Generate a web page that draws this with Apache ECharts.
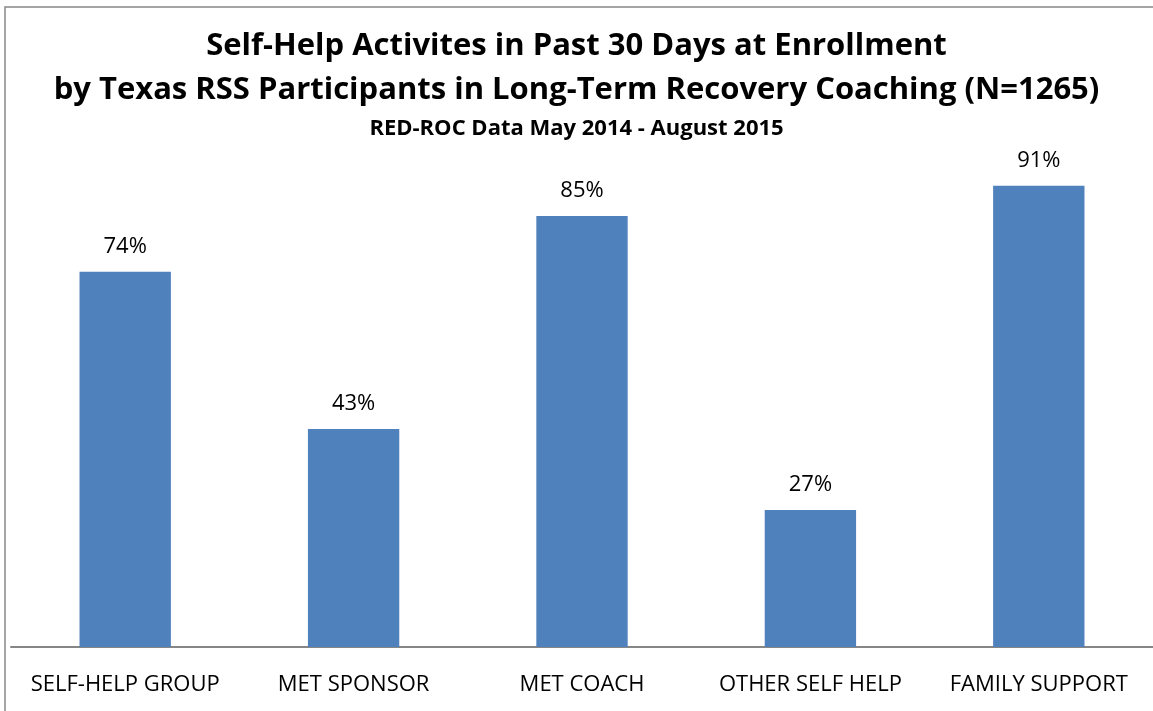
<!DOCTYPE html>
<html>
<head>
<meta charset="utf-8">
<script src="https://cdn.jsdelivr.net/npm/echarts@6/dist/echarts.min.js"></script>
<style>
  html, body { margin: 0; padding: 0; background: #fff; }
  #chart { width: 1153px; height: 711px; }
</style>
</head>
<body>
<div id="chart"></div>
<script>
const categories = ['SELF-HELP GROUP', 'MET SPONSOR', 'MET COACH', 'OTHER SELF HELP', 'FAMILY SUPPORT'];
const percents = [74, 43, 85, 27, 91];
const titleLines = [
  'Self-Help Activites in Past 30 Days at Enrollment',
  'by Texas RSS Participants in Long-Term Recovery Coaching (N=1265)'
];
const subtitle = 'RED-ROC Data May 2014 - August 2015';

const chart = echarts.init(document.getElementById('chart'));
const font = '"Open Sans", Lato, sans-serif';

const option = {
  animation: false,
  backgroundColor: '#fff',
  title: {
    text: titleLines.join('\n'),
    subtext: subtitle,
    left: 'center',
    top: 19,
    itemGap: 6,
    textStyle: { fontFamily: font, fontWeight: 'bold', fontSize: 31, lineHeight: 44, color: '#000' },
    subtextStyle: { fontFamily: font, fontWeight: 'bold', fontSize: 22, color: '#000' }
  },
  graphic: [{
    type: 'rect',
    shape: { x: 5, y: 7, width: 1300, height: 900 },
    style: { fill: 'none', stroke: '#888', lineWidth: 1.5 },
    silent: true
  }],
  grid: { left: 11, right: -3, top: 140, bottom: 64 },
  xAxis: {
    type: 'category',
    data: categories,
    axisLine: { lineStyle: { color: '#868686', width: 2 } },
    axisTick: { show: false },
    axisLabel: { fontFamily: font, fontSize: 22, color: '#000', margin: 27, interval: 0 }
  },
  yAxis: {
    type: 'value',
    min: 0,
    max: 100,
    show: false
  },
  series: [{
    type: 'bar',
    data: percents,
    barWidth: '40%',
    itemStyle: { color: '#4f81bd' },
    label: {
      show: true,
      position: 'top',
      distance: 14,
      formatter: '{c}%',
      fontFamily: font,
      fontSize: 22,
      color: '#000'
    }
  }]
};

chart.setOption(option);
</script>
</body>
</html>
